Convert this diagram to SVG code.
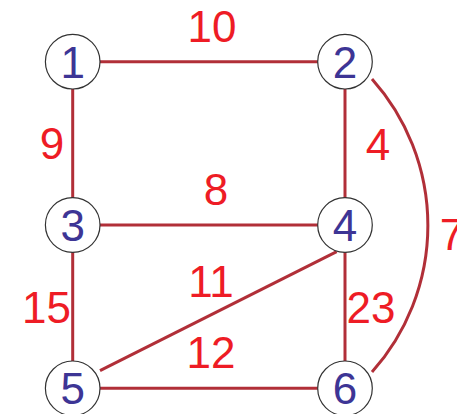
<svg xmlns="http://www.w3.org/2000/svg" width="457" height="414" viewBox="0 0 457 414">
<style>
.e{stroke:#b12f38;stroke-width:3;fill:none}
.n circle{fill:#fff;stroke:#333;stroke-width:1.2}
.n text{font-family:"Liberation Sans",Arial,sans-serif;font-size:44px;fill:#3d3595;text-anchor:middle}
.w{font-family:"Liberation Sans",Arial,sans-serif;font-size:44px;fill:#ee1c25;text-anchor:middle}
</style>
<rect width="457" height="414" fill="#fff"/>
<g id="edges">
<line class="e" x1="100" y1="61.7" x2="318" y2="61.7"/>
<line class="e" x1="72.7" y1="89" x2="72.7" y2="198" stroke-width="2.5"/>
<line class="e" x1="345" y1="89" x2="345" y2="198" stroke-width="2.5"/>
<line class="e" x1="100" y1="225" x2="318" y2="225"/>
<line class="e" x1="72.7" y1="252" x2="72.7" y2="361" stroke-width="2.5"/>
<line class="e" x1="345" y1="252" x2="345" y2="361" stroke-width="2.5"/>
<line class="e" x1="100" y1="388.3" x2="318" y2="388.3"/>
<line class="e" x1="100" y1="370.7" x2="336.7" y2="251.7" stroke-width="2"/>
<path class="e" d="M372,79 A220,220 0 0 1 372,372"/>
</g>
<g id="weights">
<text class="w" x="212" y="42">10</text>
<text class="w" x="52" y="159">9</text>
<text class="w" x="378" y="160">4</text>
<text class="w" x="216" y="205">8</text>
<text class="w" x="452" y="250">7</text>
<text class="w" x="211" y="297">11</text>
<text class="w" x="46.5" y="323">15</text>
<text class="w" x="371" y="323">23</text>
<text class="w" x="211" y="368">12</text>
</g>
<g id="node1" class="n"><circle cx="72.7" cy="61.7" r="27.3"/><text x="72.7" y="77.5">1</text></g>
<g id="node2" class="n"><circle cx="345" cy="61.7" r="27.3"/><text x="345" y="77.5">2</text></g>
<g id="node3" class="n"><circle cx="72.7" cy="225" r="27.3"/><text x="72.7" y="241">3</text></g>
<g id="node4" class="n"><circle cx="345" cy="225" r="27.3"/><text x="345" y="241">4</text></g>
<g id="node5" class="n"><circle cx="72.7" cy="388.3" r="27.3"/><text x="72.7" y="404">5</text></g>
<g id="node6" class="n"><circle cx="345" cy="388.3" r="27.3"/><text x="345" y="404">6</text></g>
</svg>
